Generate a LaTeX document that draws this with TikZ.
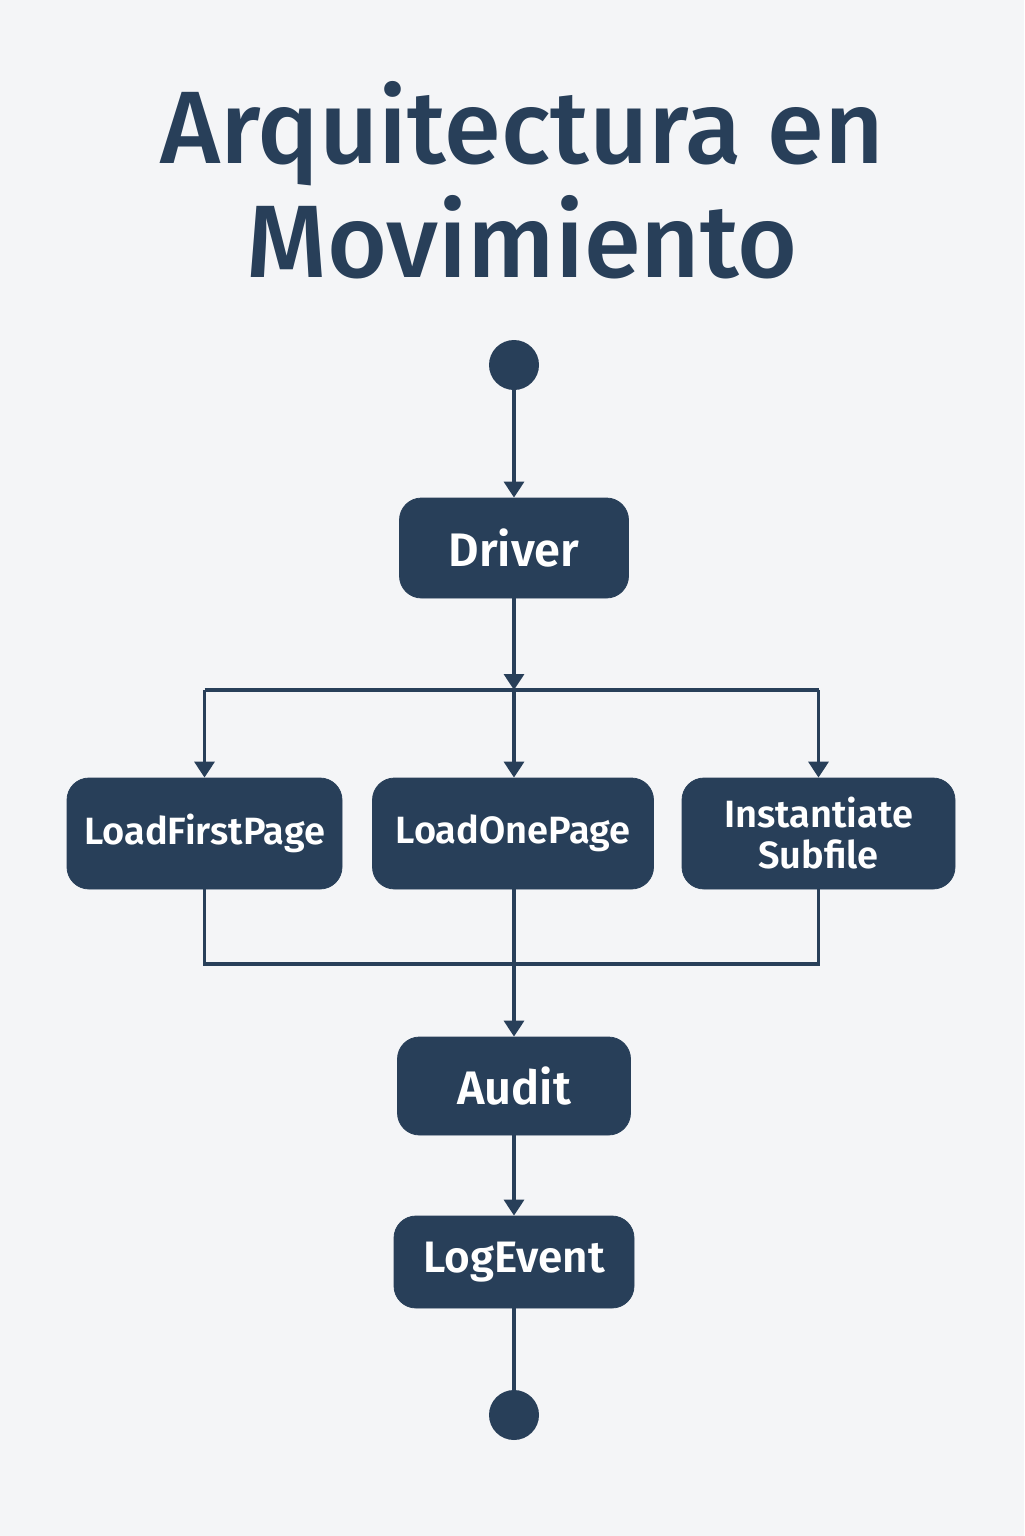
\documentclass[tikz,border=0pt]{standalone}
\usepackage{fontspec}
\setmainfont{Fira Sans}
\newfontfamily\titlefont{Fira Sans Medium}
\newfontfamily\boxfont{Fira Sans SemiBold}
\usetikzlibrary{arrows.meta}
\definecolor{navy}{HTML}{283F59}
\definecolor{bg}{HTML}{F4F5F7}
\tikzset{
  box/.style={draw=navy, fill=navy, rounded corners=11pt, text=white, align=center, inner sep=0pt, font=\boxfont},
  dot/.style={circle, fill=navy, minimum size=25pt, inner sep=0pt},
  conn/.style={draw=navy, line width=1.7pt},
  arr/.style={conn, -{Triangle[width=10pt,length=8pt]}},
  ttl/.style={text=navy, font=\titlefont\fontsize{51.5}{60}\selectfont, anchor=base, inner sep=0pt}
}
\begin{document}
\begin{tikzpicture}[x=0.5pt,y=-0.5pt]
\fill[bg] (0,0) rectangle (1024,1536);
\useasboundingbox (0,0) rectangle (1024,1536);
\node[ttl] (t1) at (522,163) {Arquitectura en};
\node[ttl] (t2) at (522,277) {Movimiento};
\node[dot] (start) at (514,365) {};
\node[box, minimum width=114.5pt, minimum height=50pt, font=\boxfont\fontsize{23.5}{28}\selectfont] (driver) at (514,548) {Driver};
\node[box, minimum width=137.5pt, minimum height=55.5pt, font=\boxfont\fontsize{19}{23}\selectfont] (lfp) at (204.5,833.5) {LoadFirstPage};
\node[box, minimum width=140.5pt, minimum height=55.5pt, font=\boxfont\fontsize{19}{23}\selectfont] (lop) at (513,833.5) {LoadOnePage};
\node[box, minimum width=136.5pt, minimum height=55.5pt, font=\boxfont\fontsize{19}{20.5}\selectfont] (inst) at (818.5,833.5) {Instantiate\\Subfile};
\node[box, minimum width=116.5pt, minimum height=49pt, font=\boxfont\fontsize{23.5}{28}\selectfont] (audit) at (514,1086) {Audit};
\node[box, minimum width=120pt, minimum height=46pt, font=\boxfont\fontsize{22}{27}\selectfont] (logevent) at (514,1262) {LogEvent};
\node[dot] (end) at (514,1415) {};
\coordinate (split) at (514,690);
\coordinate (merge) at (514,964);
\draw[arr] (start) -- (driver);
\draw[arr] (driver) -- (split);
\draw[conn] (split -| lfp) -- (split -| inst);
\draw[arr] (split -| lfp) -- (lfp.north);
\draw[arr] (split) -- (lop.north -| split);
\draw[arr] (split -| inst) -- (inst.north);
\draw[conn] (lfp.south) -- (lfp.south |- merge) -- (inst.south |- merge) -- (inst.south);
\draw[arr] (lop.south -| merge) -- (audit.north -| merge);
\draw[arr] (audit) -- (logevent);
\draw[conn] (logevent) -- (end);
\end{tikzpicture}
\end{document}
